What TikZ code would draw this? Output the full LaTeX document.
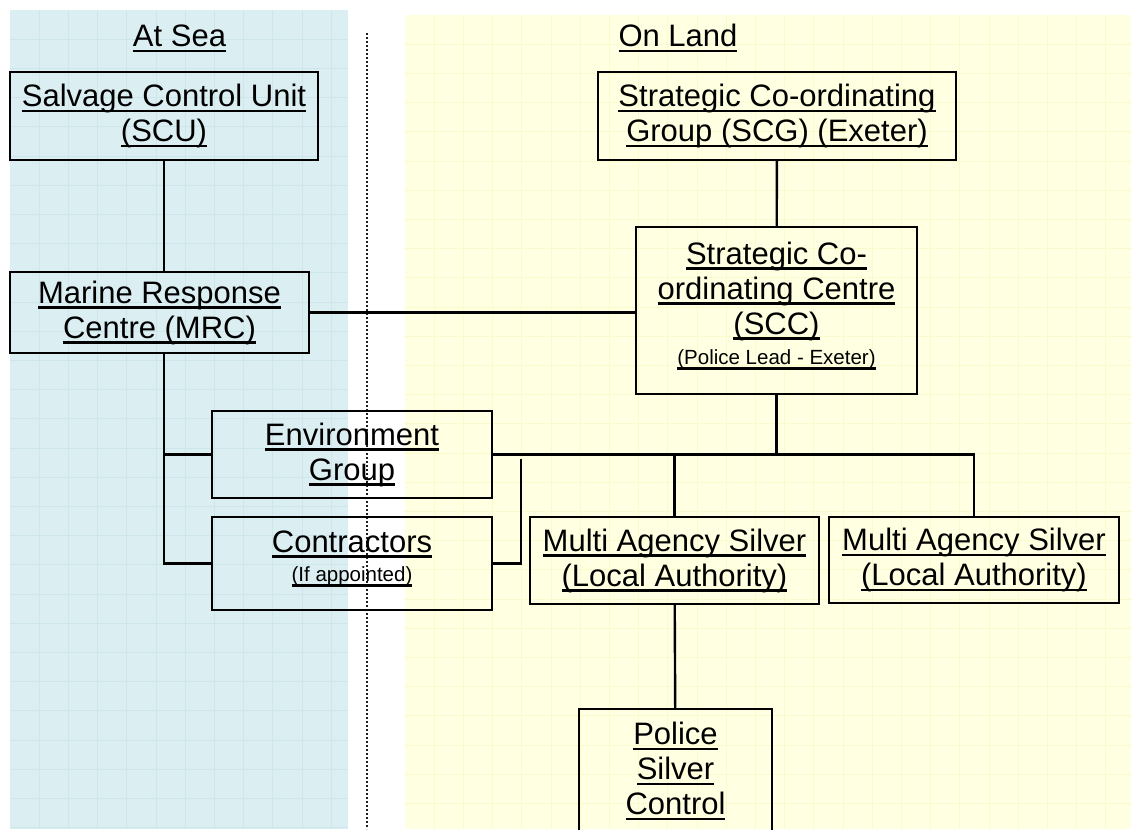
\documentclass[tikz,border=0pt]{standalone}
\usepackage{fontspec}
\setmainfont{Liberation Sans}
\usepackage{xcolor}
\usepackage{tikz}
\usetikzlibrary{positioning,calc}

\definecolor{seafill}{RGB}{219,238,241}
\definecolor{seagrid}{RGB}{204,230,236}
\definecolor{landfill}{RGB}{255,255,226}
\definecolor{landgrid}{RGB}{250,250,204}
\definecolor{dotgray}{RGB}{30,30,30}

\newcommand{\ulined}[1]{\setbox0\hbox{#1}\rlap{\rule[-5.5pt]{\wd0}{2.4pt}}\box0}
\newcommand{\smalltxt}{\fontsize{20.5}{24}\selectfont}

\begin{document}
\begin{tikzpicture}[x=1pt,y=-1pt,
  unit/.style={draw,line width=2.4pt,align=center,inner sep=0pt,font=\fontsize{31}{35}\selectfont},
  hdr/.style={anchor=base,inner sep=0pt,font=\fontsize{31}{35}\selectfont},
  link/.style={line width=2.4pt},
  sealine/.style={seagrid,line width=0.9pt},
  landline/.style={landgrid,line width=0.9pt}]
\useasboundingbox (0,0) rectangle (1131,829);
\clip (0,0) rectangle (1131,829);
% panels
\fill[seafill] (10,10) rectangle (348,829);
\foreach \i in {1,...,11} \draw[sealine] ({10+29.2*\i},10) -- ({10+29.2*\i},829);
\foreach \i in {1,...,28} \draw[sealine] (10,{10+29.2*\i}) -- (348,{10+29.2*\i});
\fill[landfill] (405,15) rectangle (1131,829);
\foreach \i in {1,...,24} \draw[landline] ({405+29.2*\i},15) -- ({405+29.2*\i},829);
\foreach \i in {1,...,28} \draw[landline] (405,{15+29.2*\i}) -- (1131,{15+29.2*\i});
\draw[dotgray,line width=2pt,dash pattern=on 2pt off 2pt] (367,33) -- (367,829);
% headings
\node[hdr] (sea) at (179.5,47) {\ulined{At Sea}};
\node[hdr] (land) at (678,47) {\ulined{On Land}};
% units
\node[unit,minimum width=308,minimum height=88] (scu) at (164,116) {\ulined{Salvage Control Unit}\\\ulined{(SCU)}};
\node[unit,minimum width=358,minimum height=88] (scg) at (777,116) {\ulined{Strategic Co-ordinating}\\\ulined{Group (SCG) (Exeter)}};
\node[unit,minimum width=281,minimum height=167] (scc) at (776.5,310.5) {\ulined{Strategic Co-}\\\ulined{ordinating Centre}\\\ulined{(SCC)}\\[-5pt]{\smalltxt\ulined{(Police Lead - Exeter)}\rule[-15pt]{0pt}{0pt}}};
\node[unit,minimum width=299,minimum height=81] (mrc) at (159.5,312.5) {\ulined{Marine Response}\\\ulined{Centre (MRC)}};
\node[unit,minimum width=280,minimum height=87] (env) at (352,454.5) {\ulined{Environment}\\\ulined{Group}};
\node[unit,minimum width=280,minimum height=93] (con) at (352,563.5) {\ulined{Contractors}\\[-6pt]{\smalltxt\ulined{(If appointed)}\rule[-15pt]{0pt}{0pt}}};
\node[unit,minimum width=289,minimum height=87] (mas1) at (674.5,560.5) {\ulined{Multi Agency Silver}\\\ulined{(Local Authority)}};
\node[unit,minimum width=290,minimum height=86] (mas2) at (974,560) {\ulined{Multi Agency Silver}\\\ulined{(Local Authority)}};
\node[unit,minimum width=193,minimum height=124] (psc) at (675.5,771) {\ulined{Police}\\\ulined{Silver}\\\ulined{Control}};
\coordinate (tap) at (521,459);
% links
\draw[link] (scu) -- (scu |- mrc.north);
\draw[link] (scg) -- (scc);
\draw[link] (mrc.east) -- (mrc.east -| scc.west);
\draw[link] (scu |- mrc.south) -- (scu |- con.west) -- (con.west);
\draw[link] (scu |- env.west) -- (env.west);
\draw[link] (scc.south) -- (scc.south |- env.east);
\draw[link] (env.east) -- (env.east -| mas2.north) -- (mas2.north);
\draw[link] (mas1.north |- env.east) -- (mas1.north);
\draw[link] (con.east) -| (tap);
\draw[link] (mas1) -- (psc);
\end{tikzpicture}
\end{document}
